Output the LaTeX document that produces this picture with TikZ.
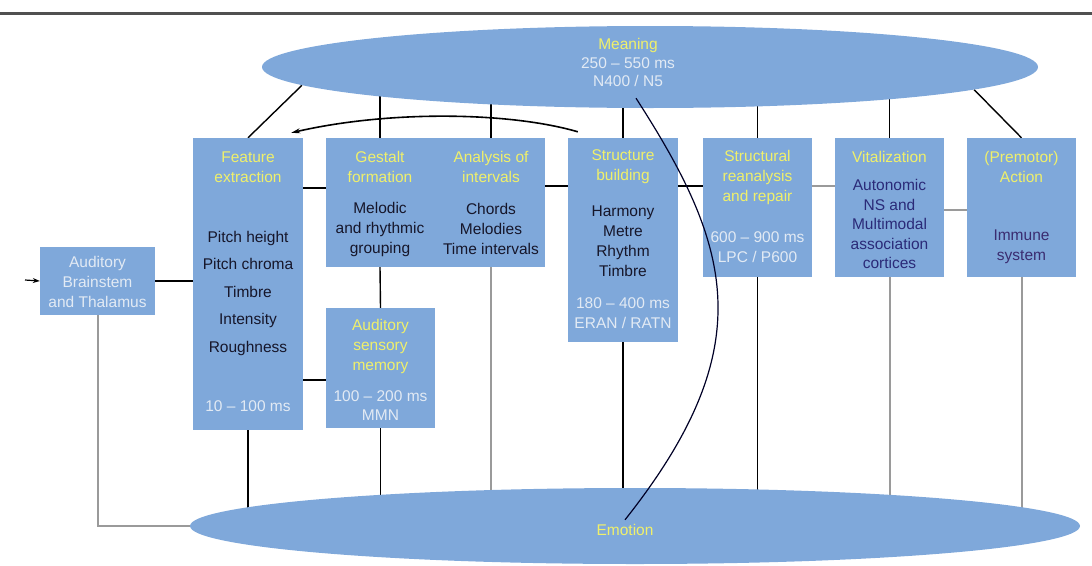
\documentclass[tikz,border=0pt]{standalone}
\usepackage{fontspec}
\setmainfont{Liberation Sans}
\usetikzlibrary{shapes.geometric,arrows.meta,calc,backgrounds}
\definecolor{boxblue}{HTML}{7FA8DA}
\definecolor{ttl}{HTML}{F0F06A}
\definecolor{lite}{HTML}{E2EAF4}
\definecolor{dark}{HTML}{16162A}
\definecolor{navy}{HTML}{2A2A78}
\definecolor{purp}{HTML}{3A2C70}
\definecolor{gline}{HTML}{9A9A9A}
\definecolor{topline}{HTML}{505050}
\tikzset{
  box/.style={fill=boxblue, draw=none, inner sep=0pt},
  oval/.style={ellipse, fill=boxblue, draw=none, inner sep=0pt},
  txt/.style={inner sep=0pt, align=center, font=\fontsize{15.5}{20}\selectfont},
  title/.style={txt, text=ttl},
  body/.style={txt, text=dark},
  ltxt/.style={txt, text=lite},
  conn/.style={draw=black, line width=1.4pt},
  gconn/.style={draw=gline, line width=2pt},
}
\begin{document}
\begin{tikzpicture}[x=1pt,y=-1pt]
\useasboundingbox (0,0) rectangle (1092,565);
\draw[topline, line width=3pt] (0,13) -- (1092,13);

% ellipses
\node[oval, minimum width=776pt, minimum height=82pt] (meaning) at (650,67) {};
\node[oval, minimum width=890pt, minimum height=76pt] (emotion) at (635,526) {};

% boxes
\node[box, minimum width=115pt, minimum height=68pt] (ab) at (97.5,281) {};
\node[box, minimum width=110pt, minimum height=292pt] (fe) at (248,284) {};
\node[box, minimum width=219pt, minimum height=129pt] (ga) at (435.5,202.5) {};
\node[box, minimum width=109pt, minimum height=120pt] (asm) at (380.5,368) {};
\node[box, minimum width=110pt, minimum height=204pt] (sb) at (623,240) {};
\node[box, minimum width=109pt, minimum height=139pt] (sr) at (757.5,207.5) {};
\node[box, minimum width=109pt, minimum height=139pt] (vit) at (889.5,207.5) {};
\node[box, minimum width=109pt, minimum height=139pt] (pa) at (1021.5,207.5) {};

% texts
\node[title] (mt) at (628,45) {Meaning};
\node[ltxt, font=\fontsize{15.5}{18.5}\selectfont] (mtime) at (628,72) {250 – 550 ms\\N400 / N5};
\node[title] (et) at (625,530) {Emotion};

\node[ltxt] (abt) at (97.5,282) {Auditory\\Brainstem\\and Thalamus};

\node[title] (fet) at (248,167) {Feature\\extraction};
\node[body, font=\fontsize{15.5}{27.5}\selectfont] (feb) at (248,293) {Pitch height\\Pitch chroma\\Timbre\\Intensity\\Roughness};
\node[ltxt] (fetime) at (248,406) {10 – 100 ms};

\node[title] (gt) at (380,167) {Gestalt\\formation};
\node[body] (gb) at (380,229) {Melodic\\and rhythmic\\grouping};
\node[title] (at) at (491,167) {Analysis of\\intervals};
\node[body] (atb) at (491,229) {Chords\\Melodies\\Time intervals};

\node[title] (asmt) at (380.5,346) {Auditory\\sensory\\memory};
\node[ltxt, font=\fontsize{15.5}{19}\selectfont] (asmtime) at (380.5,406) {100 – 200 ms\\MMN};

\node[title] (sbt) at (623,167) {Structure\\building};
\node[body] (sbb) at (623,241) {Harmony\\Metre\\Rhythm\\Timbre};
\node[ltxt] (sbtime) at (623,313) {180 – 400 ms\\ERAN / RATN};

\node[title] (srt) at (757.5,177) {Structural\\reanalysis\\and repair};
\node[ltxt] (srtime) at (757.5,247) {600 – 900 ms\\LPC / P600};

\node[title] (vt) at (889.5,157) {Vitalization};
\node[txt, text=navy, font=\fontsize{15.5}{19.5}\selectfont] (vb) at (889.5,224) {Autonomic\\NS and\\Multimodal\\association\\cortices};

\node[title] (pat) at (1021.5,167) {(Premotor)\\Action};
\node[txt, text=purp] (pab) at (1021.5,247) {Immune\\system};

\coordinate (in) at (25,280);

\begin{pgfonlayer}{background}
  % lines to Meaning
  \draw[conn] (fe.north) -- (meaning.183);
  \draw[conn] (gt |- ga.north) -- (gt |- meaning.center);
  \draw[conn] (at |- ga.north) -- (at |- meaning.center);
  \draw[conn] (sb.north) -- (sb |- meaning.center);
  \draw[conn] (sr.north) -- (sr |- meaning.center);
  \draw[conn] (vit.north) -- (vit |- meaning.center);
  \draw[conn] (pa.north) -- (meaning.356);
  % lines to Emotion
  \draw[gconn] (ab.south) |- (emotion.center);
  \draw[conn] (fe.south) -- (fe |- emotion.center);
  \draw[conn] (asm.south) -- (asm |- emotion.center);
  \draw[gconn] (at |- ga.south) -- (at |- emotion.center);
  \draw[conn] (sb.south) -- (sb |- emotion.center);
  \draw[conn] (sr.south) -- (sr |- emotion.center);
  \draw[gconn] (vit.south) -- (vit |- emotion.center);
  \draw[gconn] (pa.south) -- (pa |- emotion.center);
  % horizontal links
  \draw[conn] (ab.east) -- (ab.east -| fe.west);
  \draw[conn] ($(fe.east)+(0,-96)$) -- ($(fe.east)+(23,-96)$);
  \draw[conn] ($(fe.east)+(0,96)$) -- ($(fe.east)+(23,96)$);
  \draw[conn] (gt |- ga.south) -- (asm.north);
  \draw[conn] ($(ga.east)+(0,-16.5)$) -- ($(ga.east)+(23,-16.5)$);
  \draw[conn] ($(sb.east)+(0,-54)$) -- ($(sb.east)+(25,-54)$);
  \draw[gconn, line width=1.6pt] ($(sr.east)+(0,-21.5)$) -- ($(sr.east)+(23,-21.5)$);
  \draw[gconn, line width=1.6pt] ($(vit.east)+(0,2.5)$) -- ($(vit.east)+(23,2.5)$);
\end{pgfonlayer}

\draw[line width=1.2pt, -{Stealth[length=7pt,width=5pt]}] (in) -- (ab.west);

% feedback arrow
\draw[line width=1.6pt, -{Stealth[length=9pt,width=5pt]}]
  ($(sb.north west)+(10,-6)$) .. controls (510,112) and (390,110) .. ($(fe.north east)+(-12,-5)$);

% Meaning to Emotion curve
\draw[line width=1.2pt, black!85!blue]
  ($(meaning.south)+(-14,-10)$) .. controls (732,247) and (762,347) .. ($(emotion.north)+(-10,32)$);
\end{tikzpicture}
\end{document}
